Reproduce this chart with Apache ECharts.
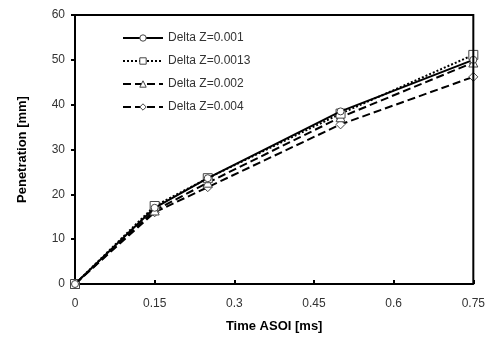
<!DOCTYPE html>
<html>
<head>
<meta charset="utf-8">
<script src="https://cdn.jsdelivr.net/npm/echarts@6/dist/echarts.min.js"></script>
<style>
  html, body { margin: 0; padding: 0; background: #fff; }
  #chart { width: 488px; height: 347px; }
</style>
</head>
<body>
<div id="chart"></div>
<script>
// time after start of injection [ms]
const times = [0, 0.15, 0.25, 0.5, 0.75];
const seriesNames = ["Delta Z=0.001", "Delta Z=0.0013", "Delta Z=0.002", "Delta Z=0.004"];
const dz0001 = [0, 17.0, 23.6, 38.5, 50.0];
const dz00013 = [0, 17.4, 23.6, 38.0, 51.1];
const dz0002 = [0, 16.4, 22.6, 37.2, 49.4];
const dz0004 = [0, 16.0, 21.6, 35.6, 46.2];
const yTicks = [0, 10, 20, 30, 40, 50, 60];
const xTicks = [0, 0.15, 0.3, 0.45, 0.6, 0.75];

const lineTypes = ["solid", "dotted", "dashed", "dashed"];
const symbols = ["circle", "rect", "triangle", "diamond"];
const values = [dz0001, dz00013, dz0002, dz0004];

const chart = echarts.init(document.getElementById("chart"));

const font = "Liberation Sans, Arial, sans-serif";

chart.setOption({
  animation: false,
  textStyle: { fontFamily: font },
  grid: { left: 75, right: 10, top: 15, bottom: 63 },
  legend: {
    orient: "vertical",
    left: 117,
    top: 27,
    itemWidth: 40,
    itemHeight: 8,
    itemGap: 11,
    itemStyle: { color: "#fff", borderColor: "#444", borderWidth: 1 },
    textStyle: { fontSize: 12, color: "#333", fontFamily: font },
    data: seriesNames,
  },
  xAxis: {
    type: "value",
    min: 0,
    max: 0.75,
    interval: 0.15,
    name: "Time ASOI [ms]",
    nameLocation: "middle",
    nameGap: 36,
    nameTextStyle: { fontWeight: "bold", fontSize: 13, color: "#000" },
    axisLine: { lineStyle: { color: "#000", width: 2 } },
    axisTick: { inside: true, length: 4, lineStyle: { color: "#000", width: 2 } },
    axisLabel: {
      margin: 14,
      color: "#333",
      fontSize: 12,
      formatter: (v) => (xTicks.includes(+v.toFixed(2)) ? String(+v.toFixed(2)) : ""),
    },
    splitLine: { show: false },
  },
  yAxis: {
    type: "value",
    min: 0,
    max: 60,
    interval: 10,
    name: "Penetration [mm]",
    nameLocation: "middle",
    nameGap: 46,
    nameTextStyle: { fontWeight: "bold", fontSize: 13, color: "#000" },
    axisLine: { lineStyle: { color: "#000", width: 2 } },
    axisTick: { length: 4, lineStyle: { color: "#000", width: 2 } },
    axisLabel: {
      margin: 10,
      color: "#333",
      fontSize: 12,
      formatter: (v) => (yTicks.includes(v) ? String(v) : ""),
    },
    splitLine: { show: false },
  },
  series: seriesNames.map((name, i) => ({
    name: name,
    type: "line",
    data: times.map((t, j) => [t, values[i][j]]),
    symbol: symbols[i],
    symbolSize: i === 0 ? 7 : 9,
    showAllSymbol: true,
    lineStyle: { color: "#000", width: 2, type: lineTypes[i] },
    itemStyle: { color: "#fff", borderColor: "#444", borderWidth: 1 },
    z: 4 - i,
  })),
});

// frame on the top and right of the plot area
const g = chart.getModel().getComponent("grid").coordinateSystem.getRect();
chart.setOption({
  graphic: [
    {
      type: "polyline",
      shape: { points: [[g.x, g.y], [g.x + g.width, g.y], [g.x + g.width, g.y + g.height]] },
      style: { stroke: "#000", lineWidth: 2, fill: null },
      z: 10,
    },
  ],
});
</script>
</body>
</html>
